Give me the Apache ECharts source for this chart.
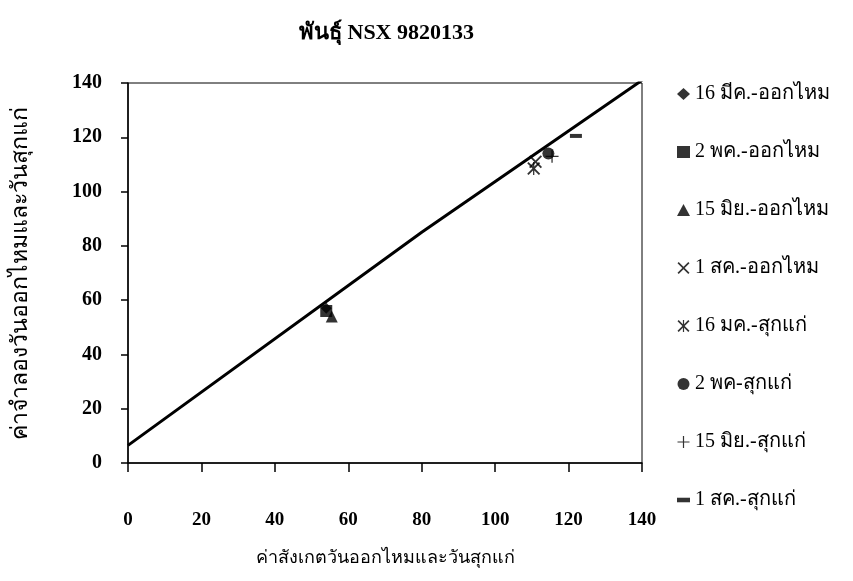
<!DOCTYPE html>
<html>
<head>
<meta charset="utf-8">
<script src="https://cdn.jsdelivr.net/npm/echarts@6/dist/echarts.min.js"></script>
<style>
  html, body { margin: 0; padding: 0; background: #fff; }
  #chart { width: 853px; height: 581px; }
</style>
</head>
<body>
<div id="chart"></div>
<script>
// series names as in the legend
const seriesNames = [
  '16 มีค.-ออกไหม', '2 พค.-ออกไหม', '15 มิย.-ออกไหม', '1 สค.-ออกไหม',
  '16 มค.-สุกแก่', '2 พค-สุกแก่', '15 มิย.-สุกแก่', '1 สค.-สุกแก่'
];
// [observed, simulated] per series
const obsSim = [
  [54, 57],
  [54, 56],
  [55.5, 54],
  [111, 111],
  [110.5, 108.5],
  [114.5, 114],
  [115.5, 113],
  [122, 120.5]
];
// fitted line
const lineX = [0, 80, 140];
const lineY = [6.5, 85, 141];
const axisTicks = [0, 20, 40, 60, 80, 100, 120, 140];

const font = '"Liberation Serif", "DejaVu Serif", serif';

const xMark = 'path://M0,1L1,0L5,4L9,0L10,1L6,5L10,9L9,10L5,6L1,10L0,9L4,5Z';
const plusMark = 'path://M4.5,0H5.5V4.5H10V5.5H5.5V10H4.5V5.5H0V4.5H4.5Z';
const starMark = 'path://M0,1L1,0L4.5,3.5V0H5.5V3.5L9,0L10,1L6,5L10,9L9,10L5.5,6.5V10H4.5V6.5L1,10L0,9L4,5Z';
const dashMark = 'path://M0,0H10V3.5H0Z';
const symbols = ['diamond', 'rect', 'triangle', xMark, starMark, 'circle', plusMark, dashMark];
const sizes = [11, 12, 12, 13, 13, 12, 13, [12, 4]];

const chart = echarts.init(document.getElementById('chart'));

const series = seriesNames.map((name, i) => ({
  name: name,
  type: 'scatter',
  symbol: symbols[i],
  symbolSize: sizes[i],
  itemStyle: { color: '#000' },
  data: [obsSim[i]],
  z: 3
}));
series.push({
  name: 'line',
  type: 'line',
  data: lineX.map((x, i) => [x, lineY[i]]),
  showSymbol: false,
  symbol: 'none',
  lineStyle: { color: '#000', width: 3 },
  silent: true,
  z: 2
});

chart.setOption({
  animation: false,
  textStyle: { fontFamily: font, color: '#000' },
  title: {
    text: 'พันธุ์ NSX 9820133',
    left: 294,
    top: 17,
    textStyle: { fontFamily: font, fontSize: 22, fontWeight: 'bold', color: '#000' }
  },
  grid: {
    left: 128, right: 211, top: 83, bottom: 118,
    show: true, borderColor: '#000', borderWidth: 1
  },
  legend: {
    orient: 'vertical',
    left: 672,
    top: 79,
    itemGap: 38,
    itemWidth: 13,
    itemHeight: 12,
    data: seriesNames,
    textStyle: { fontFamily: font, fontSize: 20, color: '#000', lineHeight: 20 }
  },
  xAxis: {
    type: 'value',
    min: 0, max: 140, interval: 20,
    name: 'ค่าสังเกตวันออกไหมและวันสุกแก่',
    nameLocation: 'middle',
    nameGap: 86,
    nameTextStyle: { fontFamily: font, fontSize: 18, color: '#000' },
    splitLine: { show: false },
    axisLine: { lineStyle: { color: '#000', width: 1.5 } },
    axisTick: { length: 9, lineStyle: { color: '#000', width: 1.5 } },
    axisLabel: { margin: 48, fontFamily: font, fontSize: 19, color: '#000', fontWeight: 'bold' }
  },
  yAxis: {
    type: 'value',
    min: 0, max: 140, interval: 20,
    name: 'ค่าจำลองวันออกไหมและวันสุกแก่',
    nameLocation: 'middle',
    nameGap: 96,
    nameTextStyle: { fontFamily: font, fontSize: 23, color: '#000' },
    splitLine: { show: false },
    axisLine: { lineStyle: { color: '#000', width: 1.5 } },
    axisTick: { length: 7, lineStyle: { color: '#000', width: 1.5 } },
    axisLabel: { margin: 26, fontFamily: font, fontSize: 20, color: '#000', fontWeight: 'bold' }
  },
  series: series
});
</script>
</body>
</html>
